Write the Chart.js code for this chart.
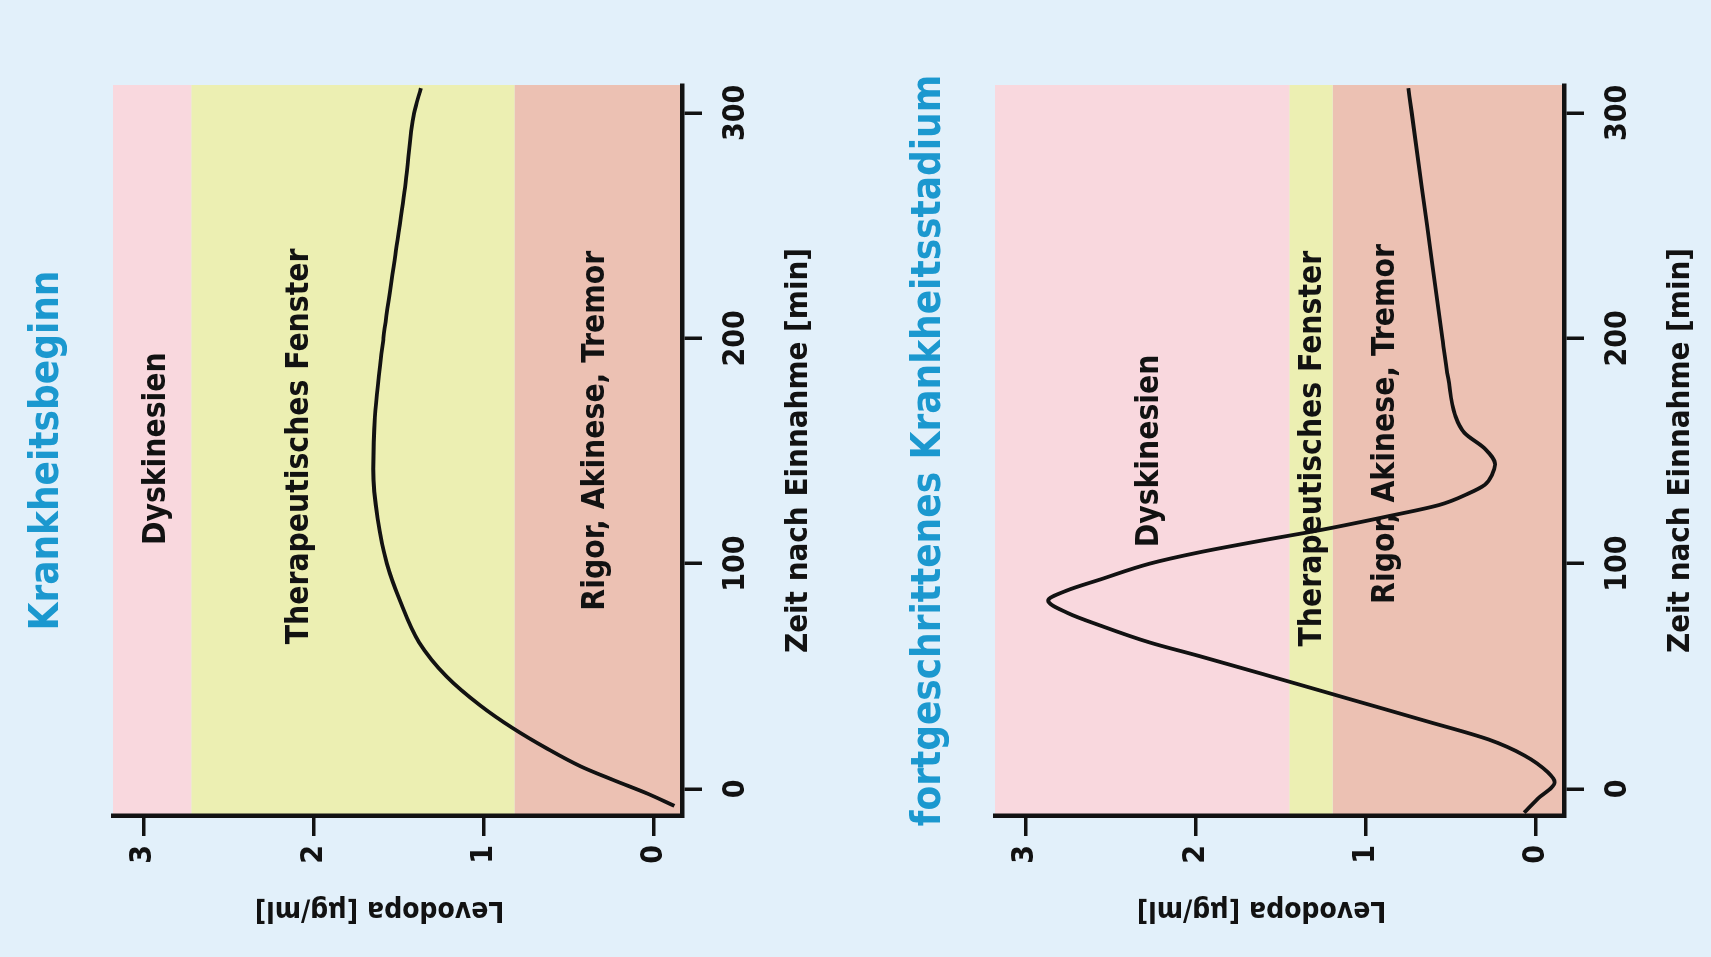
<!DOCTYPE html>
<html lang="de">
<head>
<meta charset="utf-8">
<title>Levodopa – therapeutisches Fenster</title>
<script src="https://cdn.jsdelivr.net/npm/chart.js@4.4.1/dist/chart.umd.min.js"></script>
<style>
  html, body { margin: 0; padding: 0; background: #e2f0fa; overflow: hidden; }
  body { width: 1711px; height: 957px; position: relative; }
  /* the figure is drawn upright, then turned a quarter to the left */
  #figure { position: absolute; left: 377px; top: -377px; width: 957px; height: 1711px; transform: rotate(-90deg); }
  .panel { position: absolute; left: 0; width: 957px; height: 829px; }
  #panel1 { top: 0; }
  #panel2 { top: 882px; }
</style>
</head>
<body>
<div id="figure">
  <div class="panel" id="panel1"><canvas id="chart1" width="957" height="829"></canvas></div>
  <div class="panel" id="panel2"><canvas id="chart2" width="957" height="829"></canvas></div>
</div>
<script>
// Axis ticks
const timeTicks = [0, 100, 200, 300]
const levodopaTicks = [0, 1, 2, 3]

// Krankheitsbeginn: time [min] / levodopa [µg/ml]
const earlyTime = [-7.5, -2, 4, 10, 18, 27, 37, 50, 65, 83, 100, 120, 142, 165, 200, 237, 269, 300, 311]
const earlyLevodopa = [-0.12, 0.04, 0.24, 0.43, 0.63, 0.83, 1.02, 1.22, 1.38, 1.49, 1.57, 1.625, 1.65, 1.64, 1.59, 1.52, 1.46, 1.41, 1.37]
const earlyBandEdges = [0.82, 2.72]

// fortgeschrittenes Krankheitsstadium
const lateTime = [-10.5, -4.4, 3, 7.4, 14.8, 22, 30, 40, 50, 59, 65, 72.5, 78, 83.6, 88, 93, 100, 105, 110, 115, 121, 126, 131, 135, 140, 144, 151, 158, 166, 182, 200, 250, 300, 311]
const lateLevodopa = [0.07, -0.01, -0.11, -0.07, 0.066, 0.28, 0.64, 1.1, 1.56, 1.98, 2.27, 2.56, 2.75, 2.867, 2.76, 2.56, 2.27, 1.98, 1.63, 1.26, 0.87, 0.57, 0.4, 0.3, 0.255, 0.24, 0.3, 0.42, 0.476, 0.515, 0.55, 0.64, 0.73, 0.75]
const lateBandEdges = [1.195, 1.45]

// Zones, from low to high levodopa
const zoneNames = ["Rigor, Akinese, Tremor", "Therapeutisches Fenster", "Dyskinesien"]
const zoneColors = ["#ecc1b3", "#ecefb2", "#f9d8de"]

// where the zone names sit (time, levodopa)
const earlyLabelTime = [159, 152, 151]
const earlyLabelLevodopa = [0.34, 2.08, 2.92]
const lateLabelTime = [162, 151, 150]
const lateLabelLevodopa = [0.88, 1.31, 2.27]

const FONT = "'DejaVu Sans Condensed', 'Liberation Sans Narrow', 'DejaVu Sans', sans-serif"
const INK = "#121212"

// zones, zone names, y axis title and the panel title
const decoPlugin = {
  id: "deco",
  // zones go first, so the axis lines are drawn over them
  beforeDraw(chart, args, opts) {
    const { ctx, chartArea } = chart
    const y = chart.scales.y
    const edges = [y.min, ...opts.edges, y.max]
    ctx.save()
    for (let i = 0; i < zoneColors.length; i++) {
      const top = Math.max(chartArea.top, y.getPixelForValue(edges[i + 1]))
      const bottom = Math.min(chartArea.bottom, y.getPixelForValue(edges[i]))
      ctx.fillStyle = zoneColors[i]
      ctx.fillRect(chartArea.left, top, chartArea.right - chartArea.left, bottom - top)
    }
    ctx.restore()
  },
  beforeDatasetsDraw(chart, args, opts) {
    const { ctx } = chart
    ctx.save()
    ctx.fillStyle = INK
    ctx.font = `bold 31.5px ${FONT}`
    ctx.textAlign = "center"
    ctx.textBaseline = "middle"
    zoneNames.forEach((name, i) => {
      ctx.fillText(name, chart.scales.x.getPixelForValue(opts.labelTime[i]), chart.scales.y.getPixelForValue(opts.labelLevodopa[i]))
    })
    ctx.restore()
  },
  afterDraw(chart, args, opts) {
    const { ctx, chartArea } = chart
    ctx.save()
    ctx.fillStyle = "#1b98cf"
    ctx.font = `bold 40px ${FONT}`
    ctx.textAlign = "center"
    ctx.textBaseline = "alphabetic"
    ctx.fillText(opts.title, (chartArea.left + chartArea.right) / 2, 58)

    // y axis title, a little above the middle of the axis
    ctx.translate(48, (chartArea.top + chartArea.bottom) / 2 - 18)
    ctx.rotate(-Math.PI / 2)
    ctx.fillStyle = INK
    ctx.font = `bold 28px ${FONT}`
    ctx.textBaseline = "middle"
    ctx.fillText("Levodopa [µg/ml]", 0, 0)
    ctx.restore()
  },
}

function axisFont(size) {
  return { family: FONT, size: size, weight: "bold" }
}

const axisGrid = { display: true, drawOnChartArea: false, drawTicks: true, tickLength: 20, tickWidth: 3.5, lineWidth: 3.5, color: INK }
const axisBorder = { display: true, color: INK, width: 4.5 }

function makeChart(canvasId, times, values, edges, labelTime, labelLevodopa, title) {
  const ctx = document.getElementById(canvasId).getContext("2d")
  return new Chart(ctx, {
    type: "scatter",
    data: {
      datasets: [
        {
          data: times.map((t, i) => ({ x: t, y: values[i] })),
          showLine: true,
          borderColor: INK,
          borderWidth: 3.8,
          pointRadius: 0,
          cubicInterpolationMode: "monotone",
        },
      ],
    },
    options: {
      responsive: false,
      animation: false,
      events: [],
      layout: { padding: { left: 10, right: 85, top: 113, bottom: 0 } },
      plugins: {
        legend: { display: false },
        tooltip: { enabled: false },
        deco: { edges: edges, labelTime: labelTime, labelLevodopa: labelLevodopa, title: title },
      },
      scales: {
        x: {
          type: "linear",
          min: -12,
          max: 312.4,
          afterBuildTicks: (s) => { s.ticks = timeTicks.map((v) => ({ value: v })) },
          afterFit: (s) => { s.height = 147 },
          grid: axisGrid,
          border: axisBorder,
          ticks: { color: INK, font: axisFont(30), padding: 16, maxRotation: 0 },
          title: { display: true, text: "Zeit nach Einnahme [min]", color: INK, font: axisFont(31), padding: { top: 0, bottom: 11 } },
        },
        y: {
          type: "linear",
          min: -0.165,
          max: 3.18,
          afterBuildTicks: (s) => { s.ticks = levodopaTicks.map((v) => ({ value: v })) },
          afterFit: (s) => { s.width = 131 },
          grid: axisGrid,
          border: axisBorder,
          ticks: { color: INK, font: axisFont(30), padding: 9 },
        },
      },
    },
    plugins: [decoPlugin],
  })
}

makeChart("chart1", earlyTime, earlyLevodopa, earlyBandEdges, earlyLabelTime, earlyLabelLevodopa, "Krankheitsbeginn")
makeChart("chart2", lateTime, lateLevodopa, lateBandEdges, lateLabelTime, lateLabelLevodopa, "fortgeschrittenes Krankheitsstadium")
</script>
</body>
</html>
